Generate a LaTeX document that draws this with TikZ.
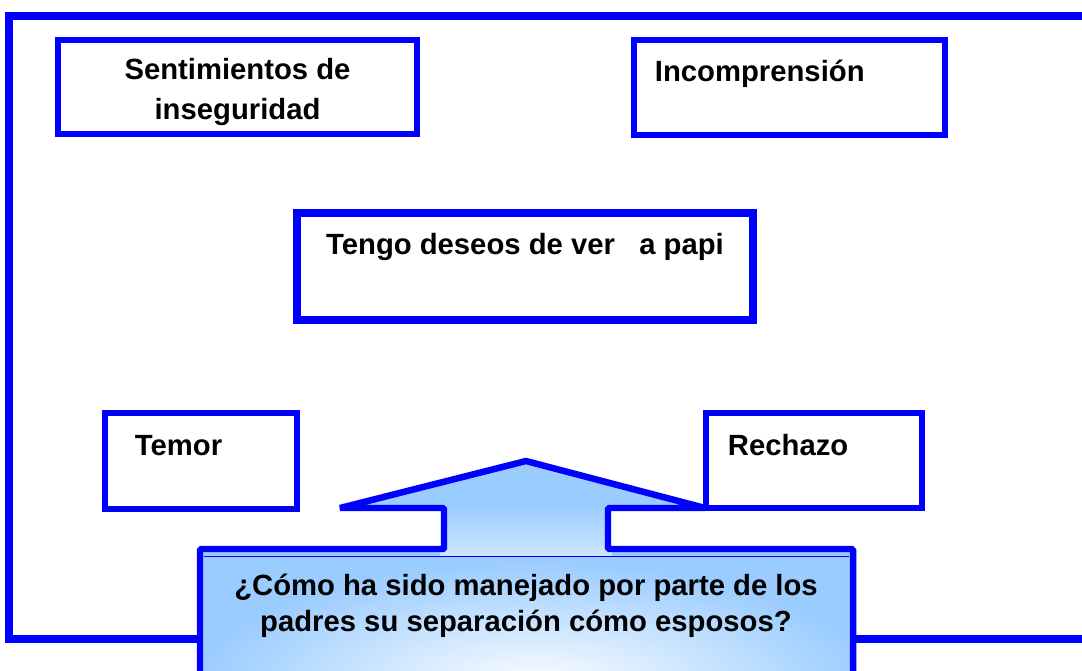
\documentclass[tikz,border=0pt]{standalone}
\usepackage{fontspec}
\setmainfont{Liberation Sans}
\usetikzlibrary{positioning}
\definecolor{azul}{RGB}{0,0,255}
\definecolor{celeste}{RGB}{155,204,255}

\begin{document}
\begin{tikzpicture}[x=0.025cm,y=-0.025cm,
  caja/.style={rectangle,draw=azul,line width=4.3pt,inner sep=0pt,
    font=\bfseries\fontsize{20.8}{28.5}\selectfont},
  cajaizq/.style={caja,align=left,text height=1.05cm},
  borde/.style={azul,line width=5pt},
  pregunta/.style={align=center,font=\bfseries\fontsize{20.8}{25.6}\selectfont}
  ]
  \useasboundingbox (0,0) rectangle (1082,670);
  \clip (0,0) rectangle (1082,670);

  % marco exterior
  \draw[borde] (1100,16) -- (9,16) -- (9,639) -- (1100,639);

  \node[caja,align=center,minimum width=8.975cm,minimum height=2.35cm]
    (inseguridad) at (237.5,87) {\rule{0pt}{0.78cm}Sentimientos de\\inseguridad};
  \node[cajaizq,text width=6.725cm,inner xsep=0.525cm,text depth=1.325cm]
    (incomprension) at (789.5,87.5) {Incomprensión};
  \node[caja,line width=5.7pt,minimum width=11.4cm,
    text height=1.05cm,text depth=1.625cm]
    (deseos) at (525,266.5) {Tengo deseos de ver\ \ \ a papi};
  \node[cajaizq,text width=3.3cm,inner xsep=0.75cm,text depth=1.35cm]
    (temor) at (201,461) {Temor};
  \node[cajaizq,text width=4.3cm,inner xsep=0.55cm,text depth=1.325cm]
    (rechazo) at (814,460.5) {Rechazo};

  % flecha hacia arriba
  \def\flecha{(200,700) -- (200,549) -- (444,549) -- (444,508) -- (340,508)
    -- (526,461) -- (705,508) -- (608,508) -- (608,549) -- (853,549)
    -- (853,700) -- cycle}
  \fill[celeste] \flecha;
  \begin{scope}
    \clip \flecha;
    \shade[top color=celeste,bottom color=celeste!50!white]
      (440,505) rectangle (612,556);
    \shade[inner color=white,outer color=celeste]
      (535,690) ellipse (8.5cm and 3.2cm);
  \end{scope}
  \draw[azul,line width=4.6pt,line join=bevel] \flecha;
  \draw[azul,line width=0.9pt] (204,556.5) -- (849,556.5);

  \node[pregunta] (pregunta) at (526,606)
    {¿Cómo ha sido manejado por parte de los\\padres su separación cómo esposos?};
\end{tikzpicture}
\end{document}
